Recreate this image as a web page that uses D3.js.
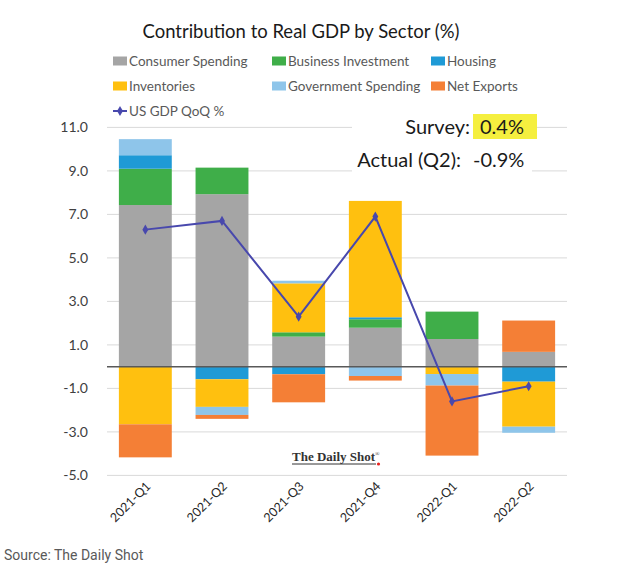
<!DOCTYPE html>
<html><head><meta charset="utf-8">
<script src="https://cdn.jsdelivr.net/npm/d3@7"></script>
<style>body{margin:0;background:#fff}svg{display:block}</style>
</head><body>
<svg id="c" width="631" height="568"></svg>
<script>
const categories = ["2021-Q1","2021-Q2","2021-Q3","2021-Q4","2022-Q1","2022-Q2"];
const consumer    = [7.43, 7.93, 1.38, 1.79, 1.27, 0.68];
const business    = [1.67, 1.22, 0.20, 0.39, 1.26, 0.00];
const housing     = [0.62, -0.58, -0.35, 0.09, 0.00, -0.69];
const inventories = [-2.65, -1.27, 2.25, 5.35, -0.34, -2.07];
const government  = [0.74, -0.37, 0.12, -0.43, -0.53, -0.28];
const netExports  = [-1.52, -0.18, -1.29, -0.21, -3.22, 1.44];
const gdpQoQ      = [6.3, 6.7, 2.3, 6.9, -1.6, -0.9];
const yTicks      = [11, 9, 7, 5, 3, 1, -1, -3, -5];
const seriesNames = ["Consumer Spending","Business Investment","Housing","Inventories","Government Spending","Net Exports"];
const seriesColors = ["#a5a5a5","#3fae49","#1f9ad6","#ffc00f","#8ec5ea","#f47f36"];

const svg = d3.select("#c");
const font = "Lato, 'Open Sans', sans-serif";

const seriesData = [consumer, business, housing, inventories, government, netExports];
const rows = categories.map((c, i) => {
  const r = {cat: c};
  seriesNames.forEach((n, k) => r[n] = seriesData[k][i]);
  return r;
});

const x = d3.scaleBand().domain(categories).range([107, 567]).paddingInner(0.31).paddingOuter(0.155);
const y = d3.scaleLinear().domain([-5, 11]).range([475.4, 127.4]);

// gridlines
svg.append("g").selectAll("line").data(yTicks).join("line")
  .attr("x1", 107).attr("x2", 567)
  .attr("y1", d => y(d)).attr("y2", d => y(d))
  .attr("stroke", "#d9d9d9").attr("stroke-width", 1);

// y tick labels
svg.append("g").selectAll("text").data(yTicks).join("text")
  .attr("x", 88).attr("y", d => y(d)).attr("dy", "0.35em")
  .attr("text-anchor", "end")
  .style("font-family", font).style("font-size", "14px").attr("fill", "#404040")
  .text(d => d3.format(".1f")(d).replace("−", "-"));

// stacked bars
const stack = d3.stack().keys(seriesNames).offset(d3.stackOffsetDiverging);
const stacked = stack(rows);
svg.append("g").selectAll("g").data(stacked).join("g")
  .attr("fill", (d, i) => seriesColors[i])
  .selectAll("rect").data(d => d).join("rect")
  .attr("x", d => x(d.data.cat))
  .attr("width", x.bandwidth())
  .attr("y", d => y(Math.max(d[0], d[1])))
  .attr("height", d => Math.abs(y(d[0]) - y(d[1])));

// zero line
svg.append("line").attr("x1", 107).attr("x2", 567).attr("y1", y(0)).attr("y2", y(0))
  .attr("stroke", "#595959").attr("stroke-width", 1.5);

// GDP line
const lineColor = "#4848ad";
const line = d3.line().x((d, i) => x(categories[i]) + x.bandwidth() / 2).y(d => y(d));
svg.append("path").datum(gdpQoQ).attr("d", line)
  .attr("fill", "none").attr("stroke", lineColor).attr("stroke-width", 2);
const diamond = d3.symbol().type(d3.symbolDiamond).size(30);
svg.append("g").selectAll("path").data(gdpQoQ).join("path")
  .attr("d", diamond)
  .attr("transform", (d, i) => `translate(${x(categories[i]) + x.bandwidth() / 2},${y(d)})`)
  .attr("fill", lineColor);

// x-axis labels
svg.append("g").selectAll("text").data(categories).join("text")
  .attr("transform", d => `translate(${x(d) + x.bandwidth() / 2 + 6},${487}) rotate(-45)`)
  .attr("text-anchor", "end")
  .style("font-family", font).style("font-size", "12.5px").attr("fill", "#262626")
  .text(d => d);

// title
svg.append("text").attr("x", 301).attr("y", 38).attr("text-anchor", "middle")
  .style("font-family", font).style("font-size", "19px").attr("fill", "#1a1a1a")
  .text("Contribution to Real GDP by Sector (%)")
  .each(function(){ const w = this.getComputedTextLength(); d3.select(this).style("font-size", (19 * 317 / w) + "px"); });

// legend
const legPos = [[113, 61], [272, 61], [431, 61], [113, 86], [272, 86], [431, 86]];
seriesNames.forEach((n, i) => {
  const [lx, ly] = legPos[i];
  svg.append("rect").attr("x", lx).attr("y", ly - 4.5).attr("width", 14).attr("height", 9).attr("fill", seriesColors[i]);
  svg.append("text").attr("x", lx + 16).attr("y", ly).attr("dy", "0.35em")
    .style("font-family", font).style("font-size", "13.5px").attr("fill", "#595959").text(n);
});
svg.append("line").attr("x1", 113).attr("x2", 127).attr("y1", 111).attr("y2", 111)
  .attr("stroke", lineColor).attr("stroke-width", 2);
svg.append("path").attr("d", diamond).attr("transform", "translate(120,111)").attr("fill", lineColor);
svg.append("text").attr("x", 129).attr("y", 111).attr("dy", "0.35em")
  .style("font-family", font).style("font-size", "13.5px").attr("fill", "#595959").text("US GDP QoQ %");

// annotation
svg.append("rect").attr("x", 352).attr("y", 112).attr("width", 180).attr("height", 64).attr("fill", "#fff");
svg.append("rect").attr("x", 473).attr("y", 114).attr("width", 64).attr("height", 25).attr("fill", "#f5ef3f");
const annF = "20px";
svg.append("text").attr("x", 470).attr("y", 134).attr("text-anchor", "end")
  .style("font-family", font).style("font-size", annF).attr("fill", "#1a1a1a").text("Survey:");
svg.append("text").attr("x", 480).attr("y", 134)
  .style("font-family", font).style("font-size", annF).attr("fill", "#1a1a1a").text("0.4%");
svg.append("text").attr("x", 461).attr("y", 167).attr("text-anchor", "end")
  .style("font-family", font).style("font-size", annF).attr("fill", "#1a1a1a").text("Actual (Q2):");
svg.append("text").attr("x", 473).attr("y", 167)
  .style("font-family", font).style("font-size", annF).attr("fill", "#1a1a1a").text("-0.9%");

// watermark
const wm = svg.append("g");
const wt = wm.append("text").attr("x", 292).attr("y", 461)
  .style("font-family", "'Liberation Serif', 'DejaVu Serif', serif").style("font-weight", "bold")
  .style("font-size", "13px").attr("fill", "#333");
wt.append("tspan").text("The Daily Shot");
wt.append("tspan").attr("dy", -5).style("font-size", "6px").style("font-weight", "normal").text("®");
wm.append("line").attr("x1", 292).attr("x2", 376).attr("y1", 464).attr("y2", 464).attr("stroke", "#333").attr("stroke-width", 1);
wm.append("circle").attr("cx", 378.5).attr("cy", 464).attr("r", 1.6).attr("fill", "#e8231f");

// source
svg.append("text").attr("x", 4).attr("y", 560)
  .style("font-family", "Roboto, sans-serif").style("font-size", "14px").attr("fill", "#595959")
  .text("Source: The Daily Shot");
</script>
</body></html>
